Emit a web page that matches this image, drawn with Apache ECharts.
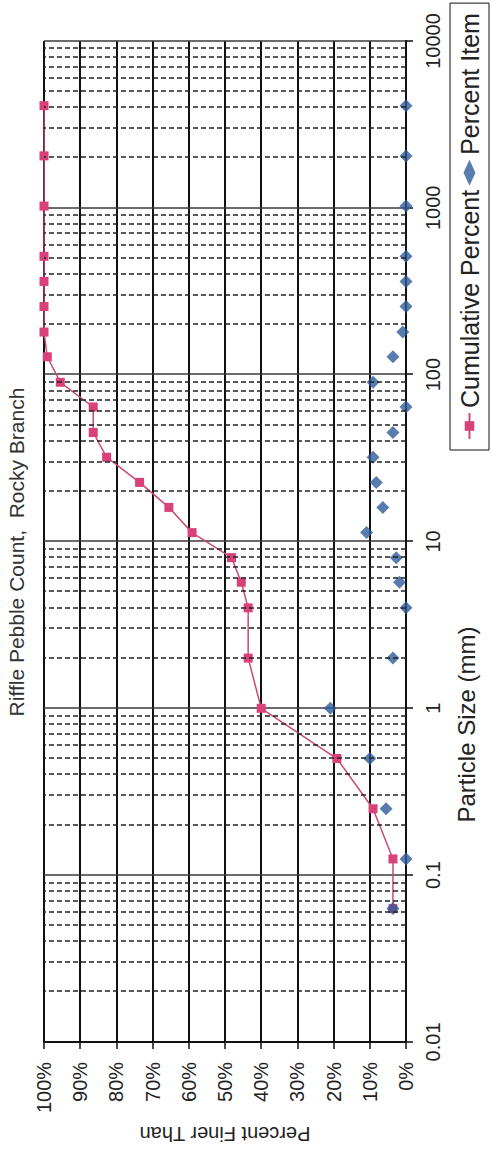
<!DOCTYPE html>
<html><head><meta charset="utf-8">
<script src="https://cdn.jsdelivr.net/npm/echarts@6/dist/echarts.min.js"></script>
<style>
html,body{margin:0;padding:0;width:491px;height:1152px;overflow:hidden;background:#fff;}
#chart{position:absolute;left:0;top:0;width:1152px;height:491px;transform-origin:0 0;transform:translate(0,1152px) rotate(-90deg);}
</style></head><body><div id="chart"></div>
<script>
const particleSizes = [0.063, 0.125, 0.25, 0.5, 1, 2, 4, 5.7, 8, 11.3, 16, 22.6, 32, 45, 64, 90, 128, 180, 256, 362, 512, 1024, 2048, 4096];
const cumulativePercent = [3.6, 3.6, 9.1, 19.1, 40.0, 43.6, 43.6, 45.5, 48.2, 59.1, 65.5, 73.6, 82.7, 86.4, 86.4, 95.5, 99.1, 100, 100, 100, 100, 100, 100, 100];
const percentItem = [3.6, 0, 5.5, 10.0, 20.9, 3.6, 0, 1.8, 2.7, 10.9, 6.4, 8.2, 9.1, 3.6, 0, 9.1, 3.6, 0.9, 0, 0, 0, 0, 0, 0];
const sizeTickLabels = ['0.01', '0.1', '1', '10', '100', '1000', '10000'];
const percentTickLabels = ['0%', '10%', '20%', '30%', '40%', '50%', '60%', '70%', '80%', '90%', '100%'];
const decadeStarts = [0.01, 0.1, 1, 10, 100, 1000];
const minorMultipliers = [2, 3, 4, 5, 6, 7, 8, 9];

const minorGrid = [];
decadeStarts.forEach(d => minorMultipliers.forEach(m => minorGrid.push(+(d * m).toPrecision(3))));

const FONT = 'Liberation Sans, Arial, sans-serif';
const chart = echarts.init(document.getElementById('chart'), null, {renderer: 'svg'});
chart.setOption({
  animation: false,
  backgroundColor: '#ffffff',
  title: {
    text: 'Riffle Pebble Count,  Rocky Branch',
    left: 600, top: 6, textAlign: 'center', padding: 0,
    textStyle: {fontSize: 21, fontWeight: 'normal', color: '#333', fontFamily: FONT}
  },
  legend: {
    data: ['Cumulative Percent', 'Percent Item'],
    left: 702, top: 450, orient: 'horizontal',
    itemWidth: 26, itemHeight: 12, itemGap: 4,
    padding: [7, 10], borderColor: '#111', borderWidth: 1, backgroundColor: '#fff',
    textStyle: {fontSize: 25, color: '#222', fontFamily: FONT}
  },
  grid: {left: 110, right: 41, top: 44, bottom: 85},
  xAxis: {
    type: 'log', logBase: 10, min: 0.01, max: 10000, splitNumber: 6,
    name: 'Particle Size (mm)', nameLocation: 'middle', nameGap: 48,
    nameTextStyle: {fontSize: 24, color: '#222', fontFamily: FONT, padding: [0, 366, 0, 0]},
    axisLine: {show: true, onZero: false, lineStyle: {color: '#111', width: 2}},
    axisTick: {show: true, inside: false, length: 7, lineStyle: {color: '#111', width: 1.5}},
    axisLabel: {
      margin: 17, fontSize: 20, color: '#222', fontFamily: FONT,
      formatter: v => sizeTickLabels[Math.round(Math.log10(v)) + 2]
    },
    splitLine: {show: true, lineStyle: {color: '#3a3a3a', width: 1.5}},
    minorTick: {show: false}
  },
  yAxis: {
    type: 'value', min: 0, max: 100, interval: 10,
    name: 'Percent Finer Than', nameLocation: 'middle', nameRotate: 90, nameGap: 80,
    nameTextStyle: {fontSize: 20, color: '#222', fontFamily: FONT},
    axisLine: {show: true, lineStyle: {color: '#111', width: 2}},
    axisTick: {show: true, inside: false, length: 7, lineStyle: {color: '#111', width: 1.5}},
    axisLabel: {
      margin: 20, fontSize: 20, color: '#222', fontFamily: FONT,
      formatter: v => percentTickLabels[Math.round(v / 10)]
    },
    splitLine: {show: true, lineStyle: {color: '#111', width: 2}}
  },
  series: [
    {
      name: 'minor grid', type: 'line', data: [], silent: true, z: 1,
      markLine: {
        silent: true, symbol: ['none', 'none'], label: {show: false}, animation: false,
        lineStyle: {type: [5, 3], color: '#222', width: 1.5},
        emphasis: {disabled: true},
        data: minorGrid.map(v => ({xAxis: v}))
      }
    },
    {
      name: 'Cumulative Percent', type: 'line', z: 3,
      data: particleSizes.map((s, i) => [s, cumulativePercent[i]]),
      symbol: 'rect', symbolSize: 9, showAllSymbol: true,
      lineStyle: {color: '#c94a78', width: 1.5},
      itemStyle: {color: '#d9417a'}
    },
    {
      name: 'Percent Item', type: 'scatter', z: 4,
      data: particleSizes.map((s, i) => [s, percentItem[i]]),
      symbol: 'diamond', symbolSize: 13,
      itemStyle: {color: '#2e5b98'}
    }
  ]
});
</script></body></html>
